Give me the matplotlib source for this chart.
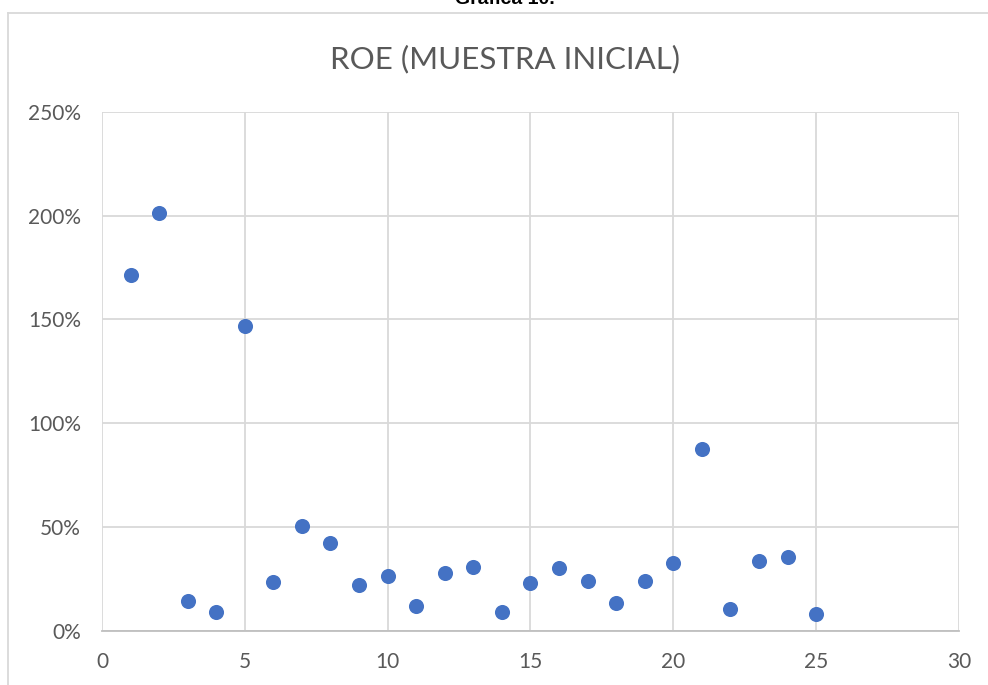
import numpy as np
import matplotlib
matplotlib.use('Agg')
import matplotlib.pyplot as plt
from matplotlib.ticker import FuncFormatter
from matplotlib.lines import Line2D

# ROE values (%) for each company in the initial sample
empresas = list(range(1, 26))
roe = [171.5, 201.5, 14.5, 9.2, 147.0, 23.4, 50.6, 42.3, 22.2, 26.4,
       12.1, 27.9, 30.5, 9.2, 22.9, 30.2, 23.9, 13.4, 24.0, 32.4,
       87.4, 10.3, 33.4, 35.6, 7.9]

x_ticks = [0, 5, 10, 15, 20, 25, 30]
y_ticks = [0, 50, 100, 150, 200, 250]

plt.rcParams['font.family'] = ['Lato', 'DejaVu Sans']

fig = plt.figure(figsize=(9.88, 6.85), dpi=100)
ax = fig.add_axes([0.1032, 0.0793, 0.8674, 0.7572])

ax.scatter(empresas, roe, s=118, color='#4472C4', zorder=3, linewidths=0)

ax.set_xlim(0, 30)
ax.set_ylim(0, 250)
ax.set_xticks(x_ticks)
ax.set_yticks(y_ticks)
ax.yaxis.set_major_formatter(FuncFormatter(lambda v, p: f'{int(v)}%'))
ax.grid(True, color='#D9D9D9', linewidth=1.3, zorder=0)
ax.tick_params(length=0, labelsize=15, labelcolor='#595959')
ax.tick_params(axis='x', pad=15)
ax.tick_params(axis='y', pad=15)
for side in ['top', 'right', 'left']:
    ax.spines[side].set_visible(False)
ax.spines['bottom'].set_color('#BFBFBF')
ax.spines['bottom'].set_linewidth(1.3)

fig.text(0.5115, 0.913, 'ROE (MUESTRA INICIAL)', ha='center', va='center',
         fontsize=22.5, color='#595959')
fig.text(0.5115, 1.0, 'Gráfica 10.', ha='center', va='center',
         fontsize=14, fontweight='bold', family='Liberation Sans', color='black')

# chart frame
fig.add_artist(Line2D([8 / 988, 8 / 988], [0, 1 - 12.5 / 685], color='#D9D9D9', lw=1.3,
                      transform=fig.transFigure))
fig.add_artist(Line2D([8 / 988, 1], [1 - 12.5 / 685, 1 - 12.5 / 685], color='#D9D9D9', lw=1.3,
                      transform=fig.transFigure))

fig.savefig('out.png', dpi=100)
